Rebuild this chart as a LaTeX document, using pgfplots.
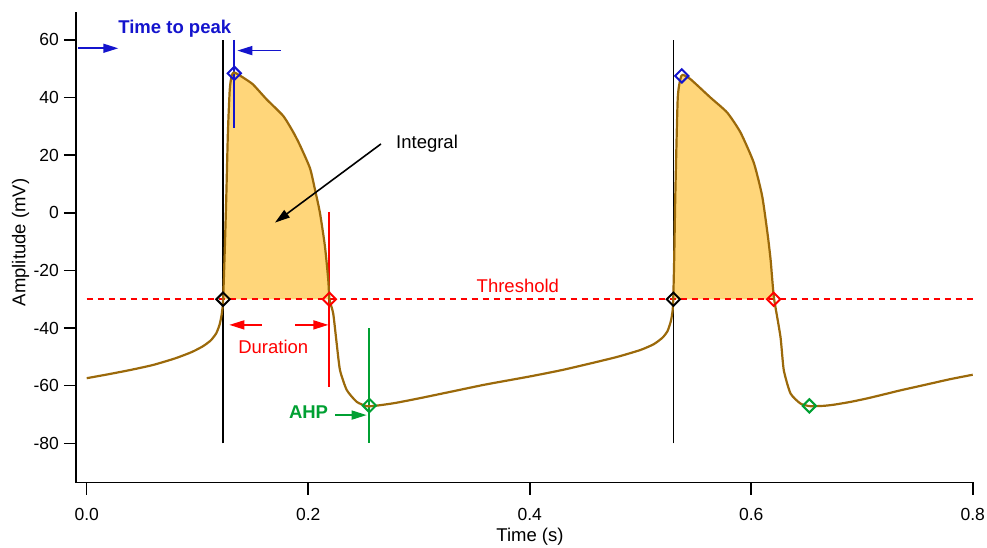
\documentclass[border=0pt]{standalone}
\usepackage{fontspec}
\setmainfont{Liberation Sans}
\usepackage{pgfplots}
\pgfplotsset{compat=1.18}
\usetikzlibrary{arrows.meta}
\definecolor{trace}{RGB}{155,105,10}
\definecolor{fillc}{RGB}{255,214,122}
\definecolor{tblue}{RGB}{20,20,205}
\definecolor{tgreen}{RGB}{0,160,50}
\definecolor{tred}{RGB}{255,0,0}
\newcommand{\annfont}{\fontsize{18.5}{22}\selectfont}
\begin{document}
\begin{tikzpicture}[x=1pt,y=1pt]
\useasboundingbox (-76,-64.5) rectangle (911,482.5);
\begin{axis}[
  at={(0,0)}, anchor=south west, scale only axis,
  width=897.5pt, height=470.8pt,
  xmin=-0.00966, xmax=0.8007, ymin=-93.6, ymax=69.8,
  axis x line*=bottom, axis y line*=left,
  axis line style={line width=1.6pt, -},
  xtick={0,0.2,0.4,0.6,0.8}, xticklabels={0.0,0.2,0.4,0.6,0.8},
  ytick={-80,-60,-40,-20,0,20,40,60},
  yticklabels={-80,-60,-40,-20,0,20,40,60},
  tick align=outside, major tick length=12pt,
  tick style={line width=1.6pt, black},
  tick label style={font=\fontsize{17.5}{20}\selectfont, inner sep=0pt},
  yticklabel style={anchor=east, xshift=-5pt},
  xticklabel style={anchor=north, yshift=-14pt},
  xlabel={Time (s)}, ylabel={Amplitude (mV)},
  xlabel style={at={(axis description cs:0.5058,0)}, anchor=base, yshift=-59.2pt, font=\annfont, inner sep=0pt},
  ylabel style={at={(axis description cs:-0.07164,0.5098)}, anchor=north, font=\annfont, inner sep=0pt},
  clip=false,
]
% integral fills
\addplot[fill=fillc, draw=none, smooth, tension=0.35] coordinates {
(0.1232,-30) (0.1245,-15) (0.1260,5) (0.1275,28) (0.1292,43) (0.1310,47.8) (0.1330,48.7)
(0.1368,48.0) (0.1430,46.5) (0.1503,44.5) (0.1624,39.4) (0.1775,33.6) (0.1865,28.0)
(0.1925,23.5) (0.2016,15.5) (0.2061,8.1) (0.2106,0) (0.2151,-11.6) (0.2181,-23.2) (0.2192,-30)} -- cycle;
\addplot[fill=fillc, draw=none, smooth, tension=0.35] coordinates {
(0.5296,-30) (0.5305,-15) (0.5315,6.9) (0.5336,39.4) (0.5360,46.4) (0.5380,47.9)
(0.5451,46.4) (0.5632,40.0) (0.5783,34.8) (0.5903,27.9) (0.6023,17.4) (0.6099,5.8)
(0.6150,-8) (0.6175,-16.3) (0.6190,-23.2) (0.6207,-30)} -- cycle;
% threshold
\addplot[color=tred, line width=1.8pt, dash pattern=on 6pt off 5pt] coordinates {(0,-30) (0.8,-30)};
% vertical markers
\addplot[color=black, line width=1.6pt] coordinates {(0.1231,-80) (0.1231,60)};
\addplot[color=black, line width=1.6pt] coordinates {(0.5297,-80) (0.5297,60)};
\addplot[color=tblue, line width=1.9pt] coordinates {(0.1333,60) (0.1333,29.6)};
\addplot[color=tred, line width=1.9pt] coordinates {(0.2191,0.3) (0.2191,-60.3)};
\addplot[color=tgreen, line width=1.9pt] coordinates {(0.2552,-40) (0.2552,-80)};
% trace
\addplot[color=trace, line width=2.2pt, line join=round, smooth, tension=0.35] coordinates {
(0.000,-57.4) (0.020,-56.0) (0.040,-54.5) (0.060,-52.8) (0.080,-50.5) (0.095,-48.3)
(0.105,-46.3) (0.112,-44.3) (0.117,-41.8) (0.1200,-38.8) (0.1218,-35.5) (0.1228,-32.5)
(0.1232,-30) (0.1245,-15) (0.1260,5)
(0.1275,28) (0.1292,43) (0.1310,47.8) (0.1330,48.7) (0.1368,48.0) (0.1430,46.5)
(0.1503,44.5) (0.1624,39.4) (0.1775,33.6) (0.1865,28.0) (0.1925,23.5) (0.2016,15.5)
(0.2061,8.1) (0.2106,0) (0.2151,-11.6) (0.2181,-23.2) (0.2192,-30) (0.2226,-35)
(0.2257,-45.3) (0.2287,-54.6) (0.2348,-61.5) (0.2438,-65.6) (0.2528,-67.1) (0.2600,-67.0)
(0.270,-66.5) (0.280,-65.9) (0.300,-64.4) (0.330,-62.0) (0.360,-59.6) (0.400,-56.8)
(0.430,-54.5) (0.460,-51.8) (0.480,-49.9) (0.500,-47.6) (0.512,-45.6) (0.520,-43.3)
(0.5245,-41.0) (0.5275,-37.5) (0.5290,-34) (0.5296,-30) (0.5305,-15) (0.5315,6.9) (0.5336,39.4)
(0.5360,46.4) (0.5380,47.9) (0.5451,46.4) (0.5632,40.0) (0.5783,34.8) (0.5903,27.9)
(0.6023,17.4) (0.6099,5.8) (0.6150,-8) (0.6175,-16.3) (0.6190,-23.2) (0.6207,-30)
(0.6264,-43) (0.6294,-54.6) (0.6355,-62.7) (0.6445,-66.2) (0.6529,-67.1) (0.665,-67.0)
(0.6746,-66.6) (0.690,-65.6) (0.7048,-64.4) (0.720,-63.0) (0.7349,-61.6) (0.750,-60.3)
(0.7650,-59.0) (0.780,-57.7) (0.8000,-56.2)};
% diamonds
\addplot[only marks, mark=square, mark size=4.7pt, mark options={rotate=45, line width=2pt, draw=black, fill=none}] coordinates {(0.1231,-30) (0.5297,-30)};
\addplot[only marks, mark=square, mark size=4.7pt, mark options={rotate=45, line width=2pt, draw=tblue, fill=none}] coordinates {(0.1333,48.4) (0.5373,47.5)};
\addplot[only marks, mark=square, mark size=4.7pt, mark options={rotate=45, line width=2pt, draw=tred, fill=none}] coordinates {(0.2191,-30) (0.6202,-30)};
\addplot[only marks, mark=square, mark size=4.7pt, mark options={rotate=45, line width=2pt, draw=tgreen, fill=none}] coordinates {(0.2552,-66.9) (0.6525,-67.0)};
% arrows
\addplot[color=tblue, line width=1.6pt, -{Triangle[length=15pt,width=9pt]}] coordinates {(-0.0076,57.1) (0.0285,57.1)};
\addplot[color=tblue, line width=1.6pt, -{Triangle[length=15pt,width=9pt]}] coordinates {(0.1754,56.3) (0.1360,56.3)};
\addplot[color=tred, line width=1.6pt, -{Triangle[length=15pt,width=9pt]}] coordinates {(0.1580,-38.9) (0.1288,-38.9)};
\addplot[color=tred, line width=1.6pt, -{Triangle[length=15pt,width=9pt]}] coordinates {(0.1881,-38.9) (0.2182,-38.9)};
\addplot[color=tgreen, line width=1.6pt, -{Triangle[length=15pt,width=9pt]}] coordinates {(0.2242,-70.2) (0.2528,-70.2)};
\addplot[color=black, line width=1.6pt, -{Triangle[length=15pt,width=9pt]}] coordinates {(0.2657,23.9) (0.1700,-3.4)};
% texts
\node[anchor=base, inner sep=0pt, text=tblue, font=\annfont\bfseries] at (axis cs:0.0795,62.2) {Time to peak};
\node[anchor=base, inner sep=0pt, text=black, font=\annfont] at (axis cs:0.3073,22.2) {Integral};
\node[anchor=base, inner sep=0pt, text=tred, font=\annfont] at (axis cs:0.3893,-27.6) {Threshold};
\node[anchor=base, inner sep=0pt, text=tred, font=\annfont] at (axis cs:0.1685,-48.7) {Duration};
\node[anchor=base, inner sep=0pt, text=tgreen, font=\annfont\bfseries] at (axis cs:0.2003,-71.3) {AHP};
\end{axis}
\end{tikzpicture}
\end{document}
